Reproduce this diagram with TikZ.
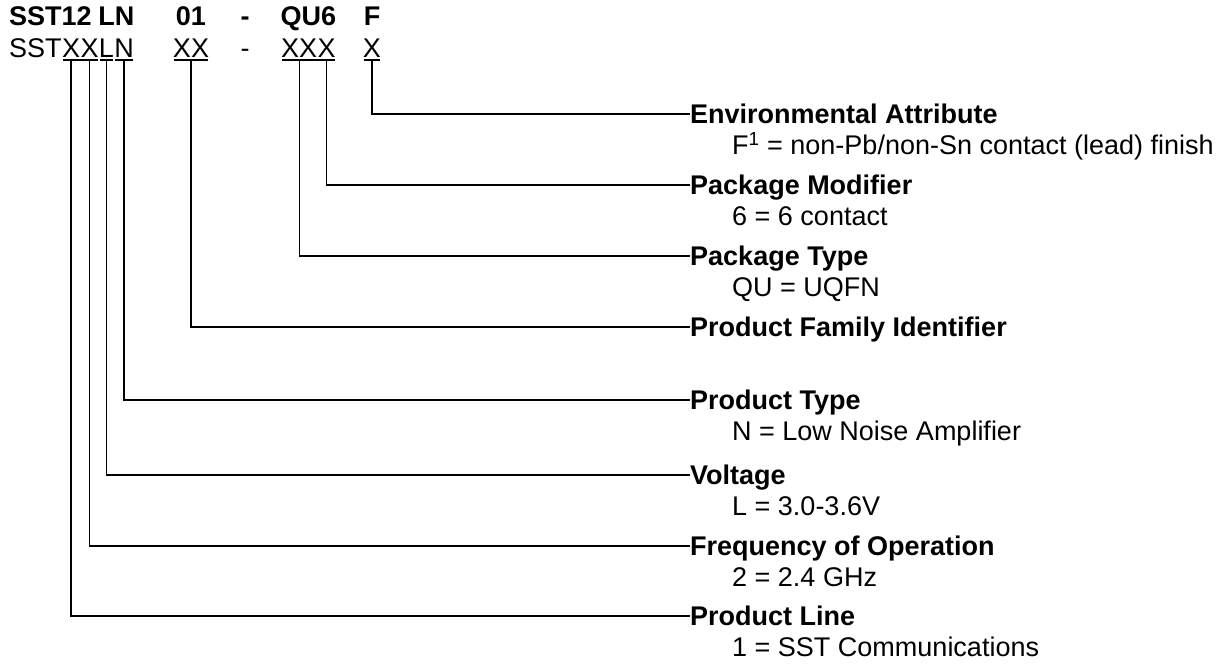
\documentclass[tikz,border=0pt]{standalone}
\usepackage{fontspec}
\setmainfont{Liberation Sans}
\usetikzlibrary{calc}
\newcommand\myfs{\fontsize{27}{31}\selectfont}
\tikzset{
  code/.style={inner sep=0pt, anchor=base, font=\myfs},
  codeb/.style={inner sep=0pt, anchor=base, font=\myfs\bfseries},
  ttl/.style={inner sep=0pt, anchor=west, font=\myfs\bfseries, text height=19.3pt, text depth=0pt},
  dsc/.style={inner sep=0pt, anchor=base west, font=\myfs},
  ln/.style={line width=1.3pt},
  ul/.style={line width=1.3pt, shorten <=1.2pt, shorten >=1.2pt},
}
\begin{document}
\begin{tikzpicture}[x=1pt,y=-1pt]
\useasboundingbox (0,0) rectangle (1224,664);
% second row (code letters)
\node[code, anchor=base west] (sst) at (9,57) {SST};
\node[code, anchor=base west] (x1) at (sst.base east) {X};
\node[code, anchor=base west] (x2) at (x1.base east) {X};
\node[code, anchor=base west] (lv) at (x2.base east) {L};
\node[code, anchor=base west] (nt) at (lv.base east) {N};
\node[code] (fam) at (191,57) {XX};
\node[code] (dsh) at (245,57) {-};
\node[code, anchor=base west] (pt) at (281,57) {XX};
\node[code, anchor=base west] (pm) at (pt.base east) {X};
\node[code] (ea) at (372,57) {X};
% centres of the grouped letters
\coordinate (lnc) at ($(lv.west)!0.5!(nt.east)$);
\coordinate (quc) at ($(pt.west)!0.5!(pm.east)$);
% top row (example)
\node[codeb, anchor=base west] (tsst) at (9,25) {SST12};
\node[codeb] (tln) at (lnc |- 0,25) {LN};
\node[codeb] (t01) at (fam.center |- 0,25) {01};
\node[codeb] (tds) at (dsh.center |- 0,25) {-};
\node[codeb] (tqu) at (quc |- 0,25) {QU6};
\node[codeb] (tf) at (ea.center |- 0,25) {F};
% underlines
\draw[ul] ([yshift=-2.8pt]x1.south west) -- ([yshift=-2.8pt]x2.south east);
\draw[ul] ([yshift=-2.8pt]lv.south west) -- ([yshift=-2.8pt]lv.south east);
\draw[ul] ([yshift=-2.8pt]nt.south west) -- ([yshift=-2.8pt]nt.south east);
\draw[ul] ([yshift=-2.8pt]fam.south west) -- ([yshift=-2.8pt]fam.south east);
\draw[ul] ([yshift=-2.8pt]pt.south west) -- ([yshift=-2.8pt]pm.south east);
\draw[ul] ([yshift=-2.8pt]ea.south west) -- ([yshift=-2.8pt]ea.south east);
% labels
\node[ttl] (eaT) at (690,114) {Environmental Attribute};
\node[dsc] (eaD) at ($(eaT.south west)+(42,31)$) {F\textsuperscript{1} = non-Pb/non-Sn contact (lead) finish};
\node[ttl] (pmT) at (690,185) {Package Modifier};
\node[dsc] (pmD) at ($(pmT.south west)+(42,31)$) {6 = 6 contact};
\node[ttl] (ptT) at (690,256) {Package Type};
\node[dsc] (ptD) at ($(ptT.south west)+(42,31)$) {QU = UQFN};
\node[ttl] (famT) at (690,327) {Product Family Identifier};
\node[ttl] (ntT) at (690,400) {Product Type};
\node[dsc] (ntD) at ($(ntT.south west)+(42,31)$) {N = Low Noise Amplifier};
\node[ttl] (lvT) at (690,475) {Voltage};
\node[dsc] (lvD) at ($(lvT.south west)+(42,31)$) {L = 3.0-3.6V};
\node[ttl] (x2T) at (690,546) {Frequency of Operation};
\node[dsc] (x2D) at ($(x2T.south west)+(42,31)$) {2 = 2.4 GHz};
\node[ttl] (x1T) at (690,616) {Product Line};
\node[dsc] (x1D) at ($(x1T.south west)+(42,31)$) {1 = SST Communications};
% connectors
\draw[ln] ([yshift=-2.8pt]ea.south) |- (eaT.west);
\draw[ln] ([yshift=-2.8pt]pm.south) |- (pmT.west);
\draw[ln] ([yshift=-2.8pt]pt.south) |- (ptT.west);
\draw[ln] ([yshift=-2.8pt]fam.south) |- (famT.west);
\draw[ln] ([yshift=-2.8pt]nt.south) |- (ntT.west);
\draw[ln] ([yshift=-2.8pt]lv.south) |- (lvT.west);
\draw[ln] ([yshift=-2.8pt]x2.south) |- (x2T.west);
\draw[ln] ([yshift=-2.8pt]x1.south) |- (x1T.west);
\end{tikzpicture}
\end{document}
